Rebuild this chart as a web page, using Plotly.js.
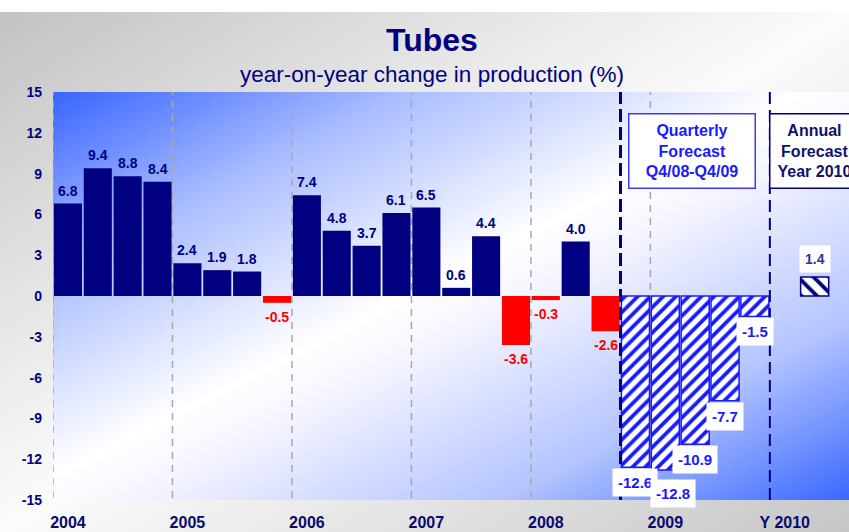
<!DOCTYPE html>
<html>
<head>
<meta charset="utf-8">
<script src="https://cdn.plot.ly/plotly-3.0.1.min.js"></script>
<style>
  html, body { margin: 0; padding: 0; background: #ffffff; }
  #wrap { position: relative; width: 849px; height: 532px; overflow: hidden; background: #ffffff; }
  #outerbg { position: absolute; left: 0; top: 12px; width: 849px; height: 520px;
    background: linear-gradient(to bottom right, #c2c2c2 0%, #e6e6e6 30%, #fbfbfb 50%, #e4e4e4 72%, #c6c6c6 100%); }
  #plotbg { position: absolute; left: 53px; top: 92px; width: 796px; height: 408px;
    background: linear-gradient(to bottom right, #3864ff 0%, #a9bcff 22%, #ffffff 47%, #f4f4ff 55%, #b4c4ff 78%, #3a68ff 100%); }
  #chart { position: absolute; left: 0; top: 0; width: 849px; height: 532px; }
</style>
</head>
<body>
<div id="wrap">
  <div id="outerbg"></div>
  <div id="plotbg"></div>
  <div id="chart"></div>
</div>
<script>
// ---- data ----
const yearLabels = ['2004', '2005', '2006', '2007', '2008', '2009', 'Y 2010'];
const actualValues = [6.8, 9.4, 8.8, 8.4, 2.4, 1.9, 1.8, -0.5, 7.4, 4.8, 3.7, 6.1, 6.5, 0.6, 4.4, -3.6, -0.3, 4.0, -2.6];
const quarterlyForecast = [-12.6, -12.8, -10.9, -7.7, -1.5];
const annualForecast = [1.4];
const yTickValues = [-15, -12, -9, -6, -3, 0, 3, 6, 9, 12, 15];
const quarterlyBoxText = ['Quarterly', 'Forecast', 'Q4/08-Q4/09'];
const annualBoxText = ['Annual', 'Forecast', 'Year 2010'];
const titleText = 'Tubes';
const subtitleText = 'year-on-year change in production (%)';

// ---- positions (slot index on a linear axis) ----
const actualX = actualValues.map((v, i) => i);
const quarterlyX = quarterlyForecast.map((v, i) => actualValues.length + i);
const spacerSlot = actualValues.length + quarterlyForecast.length;     // 'Y 2010' label slot
const annualX = annualForecast.map((v, i) => spacerSlot + 1 + i);
const yearTicks = yearLabels.map((y, i) => i * 4);

const NAVY = '#000080';
const RED = '#ff0000';
const BLUE = '#1a1aff';
const BAR_W = 0.94;

const traces = [
  {
    type: 'bar', x: actualX, y: actualValues, width: BAR_W,
    marker: { color: actualValues.map(v => v < 0 ? RED : NAVY), line: { width: 0 } },
    hoverinfo: 'x+y', cliponaxis: false
  },
  {
    type: 'bar', x: quarterlyX, y: quarterlyForecast, width: BAR_W,
    marker: { color: '#ffffff', line: { color: BLUE, width: 1.5 },
      pattern: { shape: '/', fgcolor: BLUE, bgcolor: '#ffffff', size: 9, solidity: 0.42 } },
    hoverinfo: 'x+y'
  },
  {
    type: 'bar', x: annualX, y: annualForecast, width: BAR_W,
    marker: { color: '#ffffff', line: { color: NAVY, width: 1.5 },
      pattern: { shape: '\\', fgcolor: NAVY, bgcolor: '#ffffff', size: 11, solidity: 0.35 } },
    hoverinfo: 'x+y'
  }
];

const annotations = [];
annotations.push({ xref: 'paper', yref: 'paper', x: 0.476, y: 1.128, xanchor: 'center', yanchor: 'middle',
  text: '<b>' + titleText + '</b>', showarrow: false, font: { size: 32, color: NAVY } });
annotations.push({ xref: 'paper', yref: 'paper', x: 0.476, y: 1.042, xanchor: 'center', yanchor: 'middle',
  text: subtitleText, showarrow: false, font: { size: 22.5, color: NAVY } });

// actual value labels
actualValues.forEach((v, i) => {
  annotations.push({ x: actualX[i], y: v, xref: 'x', yref: 'y', showarrow: false,
    text: '<b>' + v.toFixed(1) + '</b>',
    yanchor: v < 0 ? 'top' : 'bottom', yshift: v < 0 ? -4 : 3,
    font: { size: 14, color: v < 0 ? RED : NAVY } });
});
// quarterly forecast labels (white boxes)
const nudge = { 1: [8, -8] };
quarterlyForecast.forEach((v, i) => {
  const n = nudge[i] || [0, 0];
  annotations.push({ x: quarterlyX[i], y: v, xref: 'x', yref: 'y', showarrow: false,
    text: '<b>' + v.toFixed(1) + '</b>', yanchor: 'top', yshift: -1 + n[1], xshift: n[0],
    bgcolor: '#ffffff', borderpad: 5, font: { size: 15, color: BLUE } });
});
// annual forecast label
annualForecast.forEach((v, i) => {
  annotations.push({ x: annualX[i], y: v, xref: 'x', yref: 'y', showarrow: false,
    text: '<b>' + v.toFixed(1) + '</b>', yanchor: 'bottom', yshift: 4,
    bgcolor: '#ffffff', borderpad: 5, font: { size: 14, color: '#333399' } });
});
// forecast boxes
annotations.push({ x: 20.9, y: 10.63, xref: 'x', yref: 'y', showarrow: false,
  text: '<b>' + quarterlyBoxText.join('<br>') + '</b>', align: 'center',
  width: 123, height: 71, borderpad: 1, bgcolor: '#ffffff', bordercolor: '#3a3aff', borderwidth: 1.5,
  font: { size: 16, color: BLUE } });
annotations.push({ x: annualX[0], y: 10.63, xref: 'x', yref: 'y', showarrow: false,
  text: '<b>' + annualBoxText.join('<br>') + '</b>', align: 'center',
  width: 86, height: 71, borderpad: 1, bgcolor: '#ffffff', bordercolor: NAVY, borderwidth: 1.5,
  font: { size: 16, color: '#12126a' } });

// vertical separators
const shapes = [];
yearTicks.slice(0, 6).forEach(t => {
  shapes.push({ type: 'line', xref: 'x', yref: 'paper', x0: t - 0.5, x1: t - 0.5, y0: 0.005, y1: 1,
    line: { color: '#a8a8a8', width: 1.5, dash: '7px,6px' }, layer: 'below' });
});
shapes.push({ type: 'line', xref: 'x', yref: 'paper', x0: quarterlyX[0] - 0.5, x1: quarterlyX[0] - 0.5, y0: 0, y1: 1,
  line: { color: NAVY, width: 3, dash: '13px,5px' }, layer: 'above' });
shapes.push({ type: 'line', xref: 'x', yref: 'paper', x0: spacerSlot - 0.5, x1: spacerSlot - 0.5, y0: 0, y1: 1,
  line: { color: NAVY, width: 2, dash: '12px,6px' }, layer: 'above' });

const layout = {
  width: 849, height: 532,
  margin: { l: 53, r: 0, t: 92, b: 32, pad: 0 },
  paper_bgcolor: 'rgba(0,0,0,0)', plot_bgcolor: 'rgba(0,0,0,0)',
  showlegend: false, barmode: 'overlay',
  font: { family: '"Liberation Sans", Arial, sans-serif', color: NAVY },
  xaxis: { range: [-0.5, 26.15], tickmode: 'array', tickvals: yearTicks, ticktext: yearLabels,
    tickfont: { size: 16, weight: 'bold', color: '#0a0a6e' }, ticks: '', showgrid: false,
    zeroline: false, showline: false, ticklabelstandoff: 11, fixedrange: true },
  yaxis: { range: [-15, 15], tickmode: 'array', tickvals: yTickValues,
    ticktext: yTickValues.map(v => String(v)),
    tickfont: { size: 14, weight: 'bold', color: NAVY }, ticks: '', showgrid: false,
    zeroline: false, showline: false, ticklabelstandoff: 10, fixedrange: true },
  shapes: shapes,
  annotations: annotations
};

Plotly.newPlot('chart', traces, layout, { displayModeBar: false, staticPlot: true });
</script>
</body>
</html>
